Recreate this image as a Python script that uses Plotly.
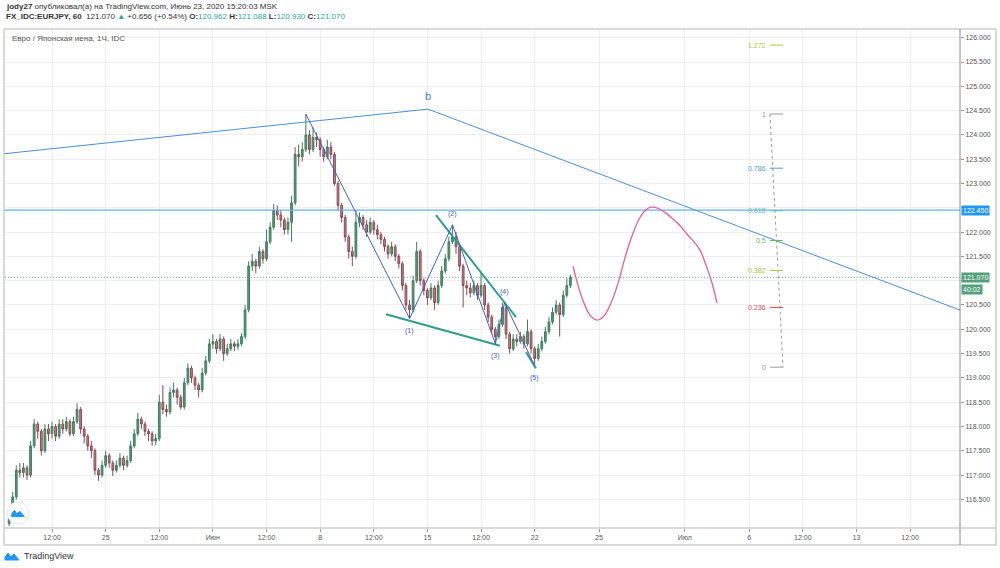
import plotly.graph_objects as go
import numpy as np

# ---------------- data (4-hour bars, EUR/JPY) ----------------
first_open = 116.00
closes = [
    116.10, 116.55, 117.10, 117.05, 117.15, 117.00, 117.60, 118.05, 117.90, 117.50,
    117.95, 117.85, 118.00, 117.80, 118.05, 117.95, 118.10, 117.85, 118.10, 118.35,
    117.95, 117.80, 117.60, 117.50, 117.10, 117.00, 117.20, 117.40, 117.25, 117.10,
    117.20, 117.35, 117.20, 117.30, 117.60, 117.85, 118.15, 118.05, 117.90, 117.85,
    117.70, 117.75, 118.50, 118.35, 118.30, 118.70, 118.75, 118.60, 118.40, 118.90,
    119.20, 119.00, 118.85, 118.75, 119.10, 119.35, 119.70, 119.75, 119.60, 119.80,
    119.50, 119.60, 119.70, 119.65, 119.70, 119.85, 120.40, 121.30, 121.40, 121.30,
    121.60, 121.45, 121.80, 122.10, 122.45, 122.35, 122.25, 122.05, 122.20, 122.60,
    123.60, 123.55, 123.70, 124.00, 123.70, 123.95, 123.90, 123.70, 123.55, 123.75,
    123.60, 123.00, 122.55, 122.30, 121.90, 121.60, 121.50, 122.20, 122.30, 122.15,
    122.00, 122.20, 122.05, 121.95, 121.85, 121.70, 121.55, 121.70, 121.50, 121.35,
    120.90, 120.50, 120.40, 121.00, 121.60, 121.00, 120.80, 120.65, 120.85, 120.55,
    120.90, 121.20, 121.45, 121.80, 121.90, 121.70, 121.30, 120.90, 120.85, 120.75,
    120.90, 120.70, 120.90, 120.50, 120.25, 120.00, 119.85, 120.10, 120.45, 119.90,
    119.60, 119.80, 119.75, 119.85, 119.70, 119.95, 119.60, 119.40, 119.60, 119.75,
    119.95, 120.15, 120.35, 120.50, 120.30, 120.70, 120.90, 121.07,
]
highs = [
    116.20, 116.65, 117.20, 117.25, 117.25, 117.20, 117.70, 118.15, 118.10, 117.95,
    118.05, 118.05, 118.10, 118.05, 118.15, 118.15, 118.20, 118.15, 118.20, 118.48,
    118.40, 118.00, 117.85, 117.70, 117.55, 117.15, 117.30, 117.50, 117.45, 117.30,
    117.30, 117.45, 117.40, 117.40, 117.70, 117.95, 118.28, 118.20, 118.10, 117.95,
    117.90, 117.85, 118.65, 118.85, 118.45, 118.80, 118.90, 118.80, 118.65, 119.00,
    119.30, 119.25, 119.05, 118.90, 119.20, 119.45, 119.80, 119.90, 119.80, 119.90,
    119.85, 119.70, 119.80, 119.75, 119.80, 119.92, 120.50, 121.40, 121.55, 121.45,
    121.70, 121.65, 122.05, 122.20, 122.58, 122.55, 122.45, 122.30, 122.30, 122.75,
    123.75, 123.80, 123.85, 124.43, 124.10, 124.15, 124.05, 123.95, 123.75, 123.90,
    123.85, 123.65, 123.05, 122.60, 122.35, 121.95, 121.70, 122.45, 122.40, 122.35,
    122.25, 122.30, 122.25, 122.15, 122.00, 121.90, 121.75, 121.80, 121.75, 121.55,
    121.40, 120.95, 120.60, 121.10, 121.80, 121.65, 121.05, 120.85, 120.95, 120.90,
    121.00, 121.30, 121.55, 121.90, 122.15, 122.00, 121.75, 121.35, 121.00, 120.95,
    121.00, 120.95, 121.15, 120.95, 120.55, 120.30, 120.05, 120.20, 120.55, 120.50,
    119.95, 119.90, 119.90, 119.95, 119.90, 120.20, 120.00, 119.65, 119.70, 119.85,
    120.05, 120.25, 120.45, 120.60, 120.55, 120.80, 121.05, 121.12,
]
lows = [
    115.95, 116.05, 116.50, 116.95, 116.95, 116.90, 116.95, 117.55, 117.75, 117.40,
    117.45, 117.70, 117.75, 117.70, 117.75, 117.85, 117.90, 117.80, 117.80, 118.05,
    117.85, 117.65, 117.50, 117.35, 117.00, 116.88, 116.95, 117.15, 117.15, 116.98,
    117.05, 117.15, 117.10, 117.15, 117.25, 117.55, 117.80, 117.95, 117.80, 117.70,
    117.60, 117.62, 117.70, 118.25, 118.20, 118.25, 118.60, 118.45, 118.35, 118.35,
    118.85, 118.90, 118.75, 118.60, 118.70, 119.05, 119.30, 119.60, 119.50, 119.55,
    119.35, 119.45, 119.55, 119.55, 119.58, 119.65, 119.80, 120.35, 121.20, 121.15,
    121.25, 121.35, 121.40, 121.75, 122.05, 122.25, 122.10, 121.95, 121.95, 121.80,
    122.55, 123.35, 123.45, 123.65, 123.60, 123.65, 123.75, 123.55, 123.45, 123.50,
    123.50, 122.95, 122.45, 122.20, 121.80, 121.45, 121.30, 121.45, 122.10, 122.05,
    121.90, 121.95, 121.95, 121.85, 121.75, 121.60, 121.45, 121.50, 121.40, 121.25,
    120.80, 120.40, 120.22, 120.35, 120.95, 120.90, 120.70, 120.50, 120.60, 120.40,
    120.50, 120.85, 121.15, 121.40, 121.75, 121.55, 121.20, 120.45, 120.70, 120.65,
    120.70, 120.60, 120.65, 120.40, 120.15, 119.90, 119.70, 119.80, 120.05, 119.80,
    119.50, 119.55, 119.65, 119.70, 119.60, 119.65, 119.50, 119.25, 119.35, 119.55,
    119.70, 119.90, 120.10, 120.30, 119.85, 120.25, 120.65, 120.85,
]
bar_start_day = 0.5      # trading-day index of first bar (Mon May 18, 12:00)
bars_per_day = 6         # 4-hour bars

# time axis ticks (trading-day index, weekends removed)
tick_days = [2.5, 5, 7.5, 10, 12.5, 15, 17.5, 20, 22.5, 25, 28, 32, 35, 37.5, 40, 42.5]
tick_text = ["12:00", "25", "12:00", "Июн", "12:00", "8", "12:00", "15", "12:00",
             "22", "25", "Июл", "6", "12:00", "13", "12:00"]
price_ticks = [116.5 + 0.5 * k for k in range(20)]
hidden_price_ticks = [121.0, 122.5]   # covered by the price boxes

# drawings (trading-day index, price)
trend_days = [0.0, 20.03, 46.0]
trend_prices = [123.60, 124.53, 120.20]
wave_days = [14.33, 19.17, 21.17, 23.17, 23.6, 25.0]
wave_prices = [124.43, 120.22, 122.15, 119.70, 120.55, 119.25]
wave_labels = ["", "(1)", "(2)", "(3)", "(4)", "(5)"]
wedge_low_days = [18.07, 23.38]
wedge_low_prices = [120.31, 119.66]
wedge_up_days = [20.40, 24.13]
wedge_up_prices = [122.35, 120.25]
wedge_tail_days = [24.6, 25.06]
wedge_tail_prices = [119.53, 119.20]
proj_days = [26.79, 27.02, 27.30, 27.58, 27.91, 28.23, 28.56, 28.89, 29.21, 29.54,
             29.87, 30.19, 30.47, 30.80, 31.12, 31.45, 31.78, 32.10, 32.43, 32.71,
             32.99, 33.27, 33.50]
proj_prices = [121.30, 120.91, 120.54, 120.29, 120.19, 120.27, 120.54, 120.95, 121.47, 121.92,
               122.27, 122.46, 122.52, 122.48, 122.39, 122.27, 122.13, 121.96, 121.80, 121.63,
               121.32, 120.95, 120.54]
b_day, b_price = 20.03, 124.80
hline_price = 122.45
last_price = 121.07
fib_high, fib_low = 124.43, 119.22
fib_days = [35.97, 36.58]
fib_levels = [1.272, 1, 0.786, 0.618, 0.5, 0.382, 0.236, 0]
fib_names = ["1.272", "1", "0.786", "0.618", "0.5", "0.382", "0.236", "0"]
fib_colors = ["#a9c83c", "#9a9a9a", "#4a9ee0", "#4cc7a0", "#58b858", "#a9c83c", "#e04848", "#9a9a9a"]

# ---------------- figure ----------------
n = len(closes)
x = [bar_start_day + i / bars_per_day for i in range(n)]
opens = [first_open] + closes[:-1]

FONT = "Liberation Sans, Arial, sans-serif"
fig = go.Figure()

fig.add_trace(go.Candlestick(
    x=x, open=opens, high=highs, low=lows, close=closes,
    increasing=dict(line=dict(color="#3f7d5f", width=1), fillcolor="#5a9a7a"),
    decreasing=dict(line=dict(color="#8a4a52", width=1), fillcolor="#c0848a"),
    whiskerwidth=0, hoverinfo="skip"))

def line(xs, ys, color, width=1, dash=None, shape="linear"):
    fig.add_trace(go.Scatter(x=xs, y=ys, mode="lines",
                             line=dict(color=color, width=width, dash=dash, shape=shape),
                             hoverinfo="skip"))

# horizontal lines
line([-5, 50], [hline_price, hline_price], "#63b3ef", 1.2)
line([-5, 50], [last_price, last_price], "#5a9e80", 1, "1px,2px")
# trend line b
line(trend_days, trend_prices, "#4a8fd8", 1)
# wedge lines
line(wedge_low_days, wedge_low_prices, "#2e9e8a", 2)
line(wedge_up_days, wedge_up_prices, "#2e9e8a", 2)
line(wedge_tail_days, wedge_tail_prices, "#2e9e8a", 2)
# wave lines
line(wave_days, wave_prices, "#3d62c4", 1)
# projection curve
line(proj_days, proj_prices, "#ec5b8c", 1.3, shape="spline")
# fib tool
line([fib_days[0], fib_days[1]], [fib_high, fib_low], "#9a9a9a", 1, "3px,3px")
for lv, nm, col in zip(fib_levels, fib_names, fib_colors):
    p = fib_low + lv * (fib_high - fib_low)
    line(fib_days, [p, p], col, 1)
    fig.add_annotation(x=fib_days[0], y=p, text=nm, showarrow=False, xanchor="right",
                       xshift=-2, yanchor="middle", font=dict(size=7, color=col, family=FONT))

# wave labels
for d, p, t in zip(wave_days, wave_prices, wave_labels):
    if not t:
        continue
    up = t in ("(2)", "(4)")
    fig.add_annotation(x=d, y=p, text=t, showarrow=False, yanchor="middle",
                       yshift=11 if up else -12,
                       font=dict(size=7, color="#3d62c4", family=FONT))
fig.add_annotation(x=b_day, y=b_price, text="b", showarrow=False,
                   font=dict(size=11, color="#3a87d8", family=FONT))

# ---------- axes ----------
price_text = ["" if v in hidden_price_ticks else f"{v:.3f}" for v in price_ticks]
fig.update_xaxes(range=[0.261, 44.83], tickmode="array", tickvals=tick_days, ticktext=tick_text,
                 showgrid=True, gridcolor="#eeeeee", gridwidth=1, zeroline=False,
                 ticks="outside", ticklen=3, tickcolor="#999",
                 tickfont=dict(size=7, color="#555", family=FONT),
                 rangeslider=dict(visible=False), showline=False)
fig.update_yaxes(range=[115.911, 126.179], side="right", tickmode="array", tickvals=price_ticks,
                 ticktext=price_text, showgrid=True, gridcolor="#eeeeee", zeroline=False,
                 ticks="outside", ticklen=3, tickcolor="#999",
                 tickfont=dict(size=7, color="#555", family=FONT), showline=False)

def px_x(px):
    return (px - 4) / 956.0

def px_y(py):
    return (528 - py) / 499.0

shapes = [
    dict(type="rect", xref="paper", yref="paper", x0=0, x1=px_x(996), y0=px_y(545), y1=1,
         line=dict(color="#b5b5b5", width=1)),
    dict(type="line", xref="paper", yref="paper", x0=1, x1=1, y0=px_y(545), y1=1,
         line=dict(color="#8a8a8a", width=1)),
    dict(type="line", xref="paper", yref="paper", x0=0, x1=px_x(996), y0=0, y1=0,
         line=dict(color="#b5b5b5", width=1)),
    # logo circle inside chart
    dict(type="circle", xref="paper", yref="paper", x0=px_x(7), x1=px_x(29), y0=px_y(524), y1=px_y(502),
         fillcolor="white", line=dict(color="#e6e6e6", width=1)),
]

def icon_path(cx, cy, s):
    pts = [(-7, 4), (-7, 1), (-4, -3), (-1, 1), (2, -2), (7, 4)]
    d = "M " + " L ".join(f"{px_x(cx + s * a)},{px_y(cy + s * b)}" for a, b in pts) + " Z"
    return d

shapes.append(dict(type="path", xref="paper", yref="paper", path=icon_path(18, 513, 0.9),
                   fillcolor="#2196f3", line=dict(color="#2196f3", width=1)))
shapes.append(dict(type="path", xref="paper", yref="paper", path=icon_path(12, 556, 1.0),
                   fillcolor="#2196f3", line=dict(color="#2196f3", width=1)))

# ---------- texts ----------
ann = [
    dict(x=0, y=px_y(7), text="<b>jody27</b> опубликовал(а) на TradingView.com, Июнь 23, 2020 15:20:03 MSK",
         font=dict(size=8, color="#333", family=FONT)),
    dict(x=0, y=px_y(17),
         text="<b>FX_IDC:EURJPY, 60</b>  121.070 <span style='color:#26a69a'>▲</span> +0.656 (+0.54%) "
              "<b>O:</b><span style='color:#26a69a'>120.962</span> <b>H:</b><span style='color:#26a69a'>121.088</span> "
              "<b>L:</b><span style='color:#26a69a'>120.930</span> <b>C:</b><span style='color:#26a69a'>121.070</span>",
         font=dict(size=8, color="#333", family=FONT)),
    dict(x=px_x(10), y=px_y(38), text="Евро / Японская иена, 1Ч, IDC",
         font=dict(size=8, color="#555", family=FONT)),
    dict(x=px_x(22), y=px_y(556), text="TradingView",
         font=dict(size=9, color="#333", family=FONT)),
]
for a in ann:
    fig.add_annotation(xref="paper", yref="paper", showarrow=False, xanchor="left", yanchor="middle", **a)

for txt, p, bg, ys in [(f"{hline_price:.3f}", hline_price, "#2196f3", 0),
                       (f"{last_price:.3f}", last_price, "#53a07c", 0),
                       ("40:02", last_price, "#53a07c", -12)]:
    fig.add_annotation(xref="paper", yref="y", x=1, y=p, yshift=ys, xanchor="left", xshift=1,
                       showarrow=False, text=txt, bgcolor=bg, borderpad=1,
                       font=dict(size=7, color="white", family=FONT))

fig.update_layout(width=1000, height=568, margin=dict(l=4, r=40, t=29, b=40),
                  paper_bgcolor="white", plot_bgcolor="white", showlegend=False,
                  shapes=shapes, font=dict(family=FONT))

fig.write_html("out.html")
